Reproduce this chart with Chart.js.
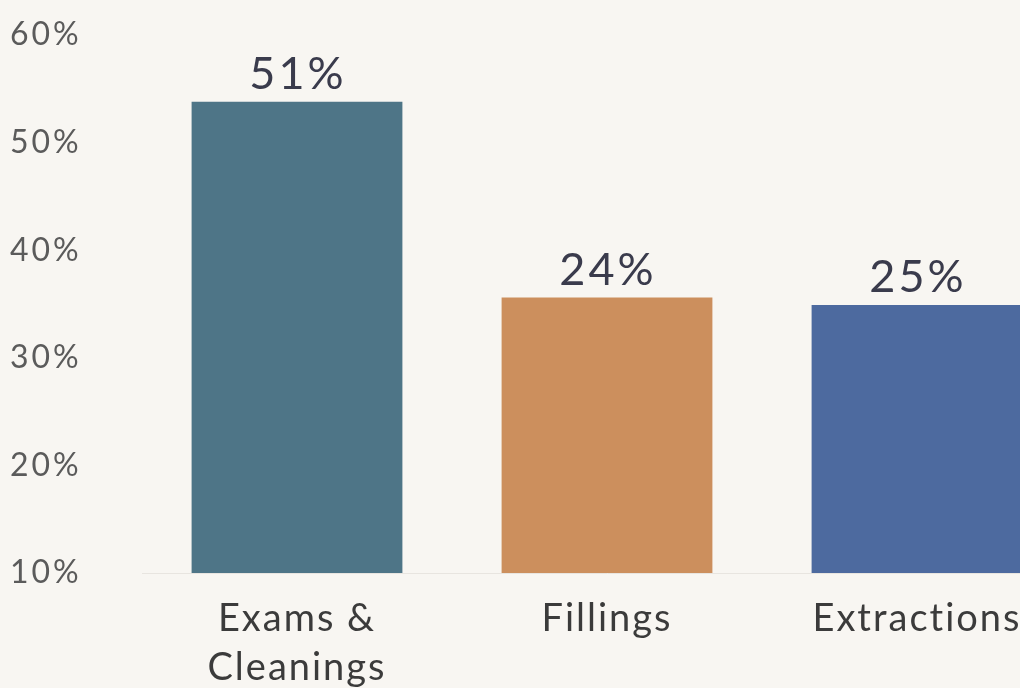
<!DOCTYPE html>
<html>
<head>
<meta charset="utf-8">
<script src="https://cdn.jsdelivr.net/npm/chart.js@4/dist/chart.umd.min.js"></script>
<style>
  html, body { margin: 0; padding: 0; background: #f8f6f2; overflow: hidden; }
  #wrap { width: 1080px; height: 688px; }
</style>
</head>
<body>
<div id="wrap"><canvas id="bar-chart" width="1080" height="688"></canvas></div>
<script>
// categories and values
var categories = [["Exams &", "Cleanings"], "Fillings", "Extractions"];
var barHeights = [53.8, 35.6, 34.9];          // where the bar tops sit on the axis
var barLabels = ["51%", "24%", "25%"];         // printed values above the bars
var yTicks = [10, 20, 30, 40, 50, 60];
var colors = ['#4e7587', '#cc8f5d', '#4d6a9f'];

// draws the printed value above each bar
var valueLabels = {
    id: 'valueLabels',
    afterDatasetsDraw: function (chart) {
        var ctx = chart.ctx;
        var meta = chart.getDatasetMeta(0);
        ctx.save();
        ctx.font = '45px Lato';
        ctx.letterSpacing = '3px';
        ctx.fillStyle = '#3a3b4c';
        ctx.textAlign = 'center';
        ctx.textBaseline = 'alphabetic';
        meta.data.forEach(function (bar, i) {
            ctx.fillText(barLabels[i], bar.x + 1, bar.y - 13);
        });
        ctx.restore();
    }
};

// the reference lettering is wider than Lato, so space the tick text out a bit
var spacedTicks = {
    id: 'spacedTicks',
    afterLayout: function (chart) {
        var spacing = { x: '2px', y: '3px' };
        Object.keys(spacing).forEach(function (id) {
            var scale = chart.scales[id];
            if (scale._spaced) return;
            var orig = scale.drawLabels;
            scale.drawLabels = function () {
                var ctx = this.ctx;
                ctx.letterSpacing = spacing[id];
                orig.apply(this, arguments);
                ctx.letterSpacing = '0px';
            };
            scale._spaced = true;
        });
    }
};

new Chart(document.getElementById("bar-chart"), {
    type: 'bar',
    data: {
        labels: categories,
        datasets: [{
            data: barHeights,
            base: 10,
            backgroundColor: colors,
            borderWidth: 0,
            categoryPercentage: 1,
            barPercentage: 0.68
        }]
    },
    options: {
        responsive: false,
        animation: false,
        layout: { padding: { top: 35, left: 10, right: 8, bottom: 0 } },
        plugins: {
            legend: { display: false },
            tooltip: { enabled: false }
        },
        scales: {
            y: {
                min: 10,
                max: 60,
                afterBuildTicks: function (scale) {
                    scale.ticks = yTicks.map(function (v) { return { value: v }; });
                },
                afterFit: function (scale) { scale.width = 132; },
                grid: { display: false },
                border: { display: false },
                ticks: {
                    crossAlign: 'far',
                    color: '#5b5b5b',
                    font: { family: 'Lato', size: 32 },
                    callback: function (value) { return value + '%'; }
                }
            },
            x: {
                afterFit: function (scale) { scale.height = 115; },
                grid: { display: false },
                border: { display: true, color: '#e8e5e0', width: 1 },
                ticks: {
                    color: '#3b3b3b',
                    padding: 14,
                    font: { family: 'Lato', size: 38, lineHeight: 1.27 },
                    maxRotation: 0,
                    autoSkip: false
                }
            }
        }
    },
    plugins: [valueLabels, spacedTicks]
});
</script>
</body>
</html>
